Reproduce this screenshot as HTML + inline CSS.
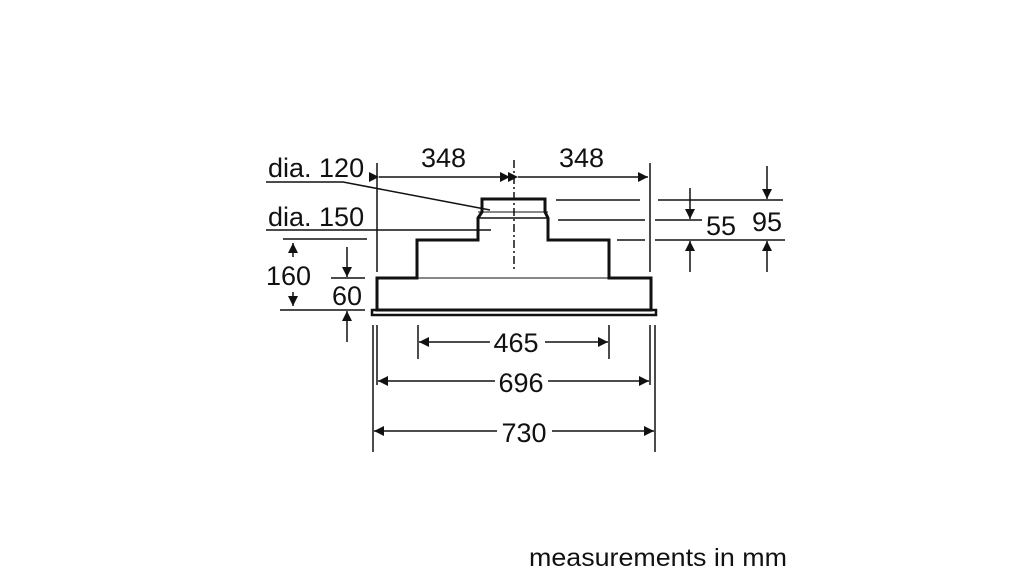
<!DOCTYPE html>
<html><head><style>html,body{margin:0;padding:0;background:#fff}svg{display:block}</style></head>
<body>
<svg width="1024" height="576" viewBox="0 0 1024 576" xmlns="http://www.w3.org/2000/svg" font-family="Liberation Sans, sans-serif" fill="#111">
<defs>
<marker id="a" viewBox="0 0 10 10" refX="10" refY="5" markerWidth="15" markerHeight="10" markerUnits="userSpaceOnUse" orient="auto"><path d="M0,0 L10,5 L0,10 z" fill="#111"/></marker>
</defs>
<g stroke="#111" stroke-width="1.5" fill="none">
<path d="M482,212 L482,199 L545,199 L545,212 L548,218 L548,240 L609,240 L609,278 L651,278 L651,310 L377,310 L377,278 L417,278 L417,240 L478,240 L478,218 Z" stroke-width="3"/>
<line x1="478" y1="218" x2="548" y2="218"/>
<line x1="478" y1="212" x2="548" y2="212" stroke-width="1"/>
<line x1="417" y1="278" x2="609" y2="278" stroke-width="1"/>
<rect x="372" y="310" width="284" height="5" stroke-width="2.5"/>
<line x1="514" y1="160" x2="514" y2="272" stroke-dasharray="8,3,2,3"/>
<line x1="377" y1="163" x2="377" y2="272"/>
<line x1="650" y1="163" x2="650" y2="272"/>
<line x1="379" y1="177" x2="510" y2="177" marker-start="url(#a)" marker-end="url(#a)"/>
<line x1="518" y1="177" x2="648" y2="177" marker-start="url(#a)" marker-end="url(#a)"/>
<polyline points="266,182 343,182 490,210"/>
<line x1="266" y1="230" x2="491" y2="230"/>
<line x1="556" y1="200" x2="640" y2="200"/>
<line x1="558" y1="220" x2="645" y2="220"/>
<line x1="617" y1="240" x2="645" y2="240"/>
<line x1="658" y1="200" x2="783" y2="200"/>
<line x1="655" y1="220" x2="702" y2="220"/>
<line x1="655" y1="240" x2="785" y2="240"/>
<line x1="690" y1="188" x2="690" y2="219" marker-end="url(#a)"/>
<line x1="690" y1="272" x2="690" y2="241" marker-end="url(#a)"/>
<line x1="767" y1="166" x2="767" y2="199" marker-end="url(#a)"/>
<line x1="767" y1="272" x2="767" y2="241" marker-end="url(#a)"/>
<line x1="283" y1="239" x2="367" y2="239"/>
<line x1="280" y1="310" x2="365" y2="310"/>
<line x1="331" y1="278" x2="365" y2="278"/>
<line x1="293" y1="257" x2="293" y2="243" marker-end="url(#a)"/>
<line x1="293" y1="292" x2="293" y2="306" marker-end="url(#a)"/>
<line x1="347" y1="247" x2="347" y2="277" marker-end="url(#a)"/>
<line x1="347" y1="342" x2="347" y2="311" marker-end="url(#a)"/>
<line x1="373" y1="325" x2="373" y2="452"/>
<line x1="377" y1="325" x2="377" y2="385"/>
<line x1="418" y1="325" x2="418" y2="359"/>
<line x1="609" y1="325" x2="609" y2="359"/>
<line x1="650" y1="325" x2="650" y2="385"/>
<line x1="655" y1="325" x2="655" y2="452"/>
<line x1="490" y1="342" x2="419" y2="342" marker-end="url(#a)"/>
<line x1="545" y1="342" x2="608" y2="342" marker-end="url(#a)"/>
<line x1="495" y1="381" x2="378" y2="381" marker-end="url(#a)"/>
<line x1="548" y1="381" x2="649" y2="381" marker-end="url(#a)"/>
<line x1="497" y1="431" x2="374" y2="431" marker-end="url(#a)"/>
<line x1="552" y1="431" x2="654" y2="431" marker-end="url(#a)"/>
</g>
<g font-size="27">
<text x="421" y="167">348</text>
<text x="559" y="167">348</text>
<text x="268" y="177">dia. 120</text>
<text x="268" y="226">dia. 150</text>
<text x="266" y="285">160</text>
<text x="332" y="305">60</text>
<text x="706" y="235">55</text>
<text x="752" y="231">95</text>
<text x="516" y="352" text-anchor="middle">465</text>
<text x="521" y="392" text-anchor="middle">696</text>
<text x="524" y="442" text-anchor="middle">730</text>
</g>
<text x="529" y="566" font-size="25" textLength="258" lengthAdjust="spacingAndGlyphs">measurements in mm</text>
</svg>
</body></html>
